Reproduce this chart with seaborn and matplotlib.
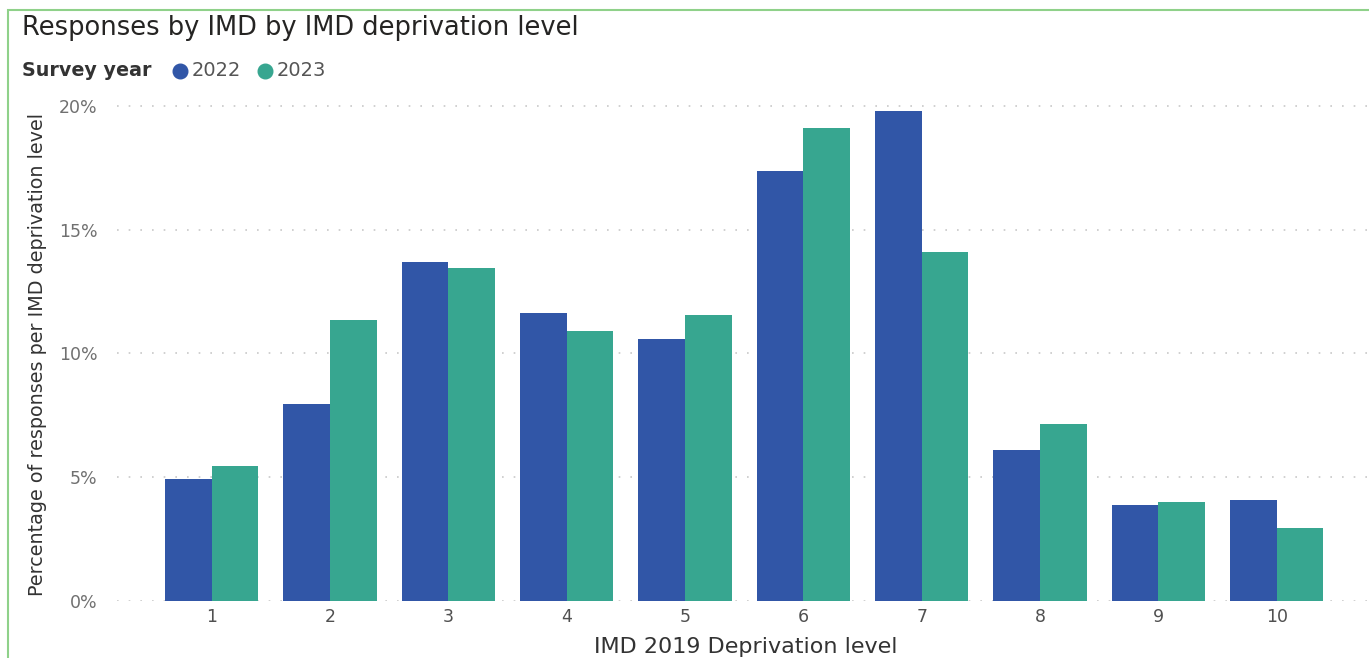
import matplotlib
matplotlib.use("Agg")
import matplotlib.pyplot as plt
import seaborn as sns
import pandas as pd
from matplotlib.patches import Rectangle
from matplotlib.lines import Line2D
from matplotlib.ticker import FuncFormatter

levels = ["1", "2", "3", "4", "5", "6", "7", "8", "9", "10"]
years = ["2022", "2023"]
pct_2022 = [4.92, 7.95, 13.68, 11.65, 10.60, 17.37, 19.81, 6.11, 3.88, 4.08]
pct_2023 = [5.45, 11.34, 13.44, 10.91, 11.54, 19.10, 14.09, 7.16, 3.99, 2.94]
colors = ["#3156A7", "#37A690"]

df = pd.DataFrame({
    "level": levels * 2,
    "year": [years[0]] * len(levels) + [years[1]] * len(levels),
    "pct": pct_2022 + pct_2023,
})

sns.set_theme(style="white")
plt.rcParams["font.family"] = ["DejaVu Sans"]

W, H = 1369, 658
fig = plt.figure(figsize=(W / 100, H / 100), dpi=100)
ax = fig.add_axes([117 / W, (H - 601) / H, 1 - 117 / W, 501 / H])

sns.barplot(data=df, x="level", y="pct", hue="year", order=levels, hue_order=years,
            palette=colors, width=0.79, gap=0, saturation=1, ax=ax, legend=False,
            edgecolor="none", linewidth=0, zorder=3)

ax.set_ylim(0, 20.24)
ax.set_xlim(-0.8, 9.78)
ax.set_yticks([0, 5, 10, 15, 20])
ax.yaxis.set_major_formatter(FuncFormatter(lambda v, p: f"{v:.0f}%"))
ax.grid(axis="y", color="#c8c8c8", linestyle=(0, (1, 6)), linewidth=1.2, zorder=0)
ax.grid(axis="x", visible=False)
for s in ax.spines.values():
    s.set_visible(False)
ax.tick_params(axis="y", labelsize=12.5, labelcolor="#707070", length=0, pad=14)
ax.tick_params(axis="x", labelsize=12.5, labelcolor="#505050", length=0, pad=5)
ax.set_xlabel("")
ax.set_ylabel("")
fig.text(746 / W, 1 - 647 / H, "IMD 2019 Deprivation level", ha="center", va="center",
         fontsize=16, color="#333333")
fig.text(38 / W, 1 - 355 / H, "Percentage of responses per IMD deprivation level",
         rotation=90, ha="center", va="center", fontsize=13.8, color="#333333")

# frame
fig.patches.append(Rectangle((8 / W, -0.1), 1.2, 1 - 10 / H + 0.1, transform=fig.transFigure,
                             fill=False, edgecolor="#8fd18a", linewidth=1.5))

fig.text(22 / W, 1 - 28 / H, "Responses by IMD by IMD deprivation level",
         ha="left", va="center", fontsize=18.5, color="#252423")

# legend
fig.text(22 / W, 1 - 71 / H, "Survey year", ha="left", va="center", fontsize=13.8,
         fontweight="bold", color="#333333")
for cx, tx, c, lab in [(180, 192, colors[0], years[0]), (265, 277, colors[1], years[1])]:
    fig.add_artist(Line2D([cx / W], [1 - 71 / H], marker="o", markersize=10.5,
                          color=c, transform=fig.transFigure, linestyle="none"))
    fig.text(tx / W, 1 - 71 / H, lab, ha="left", va="center", fontsize=14, color="#555555")

fig.savefig("out.png", dpi=100)
